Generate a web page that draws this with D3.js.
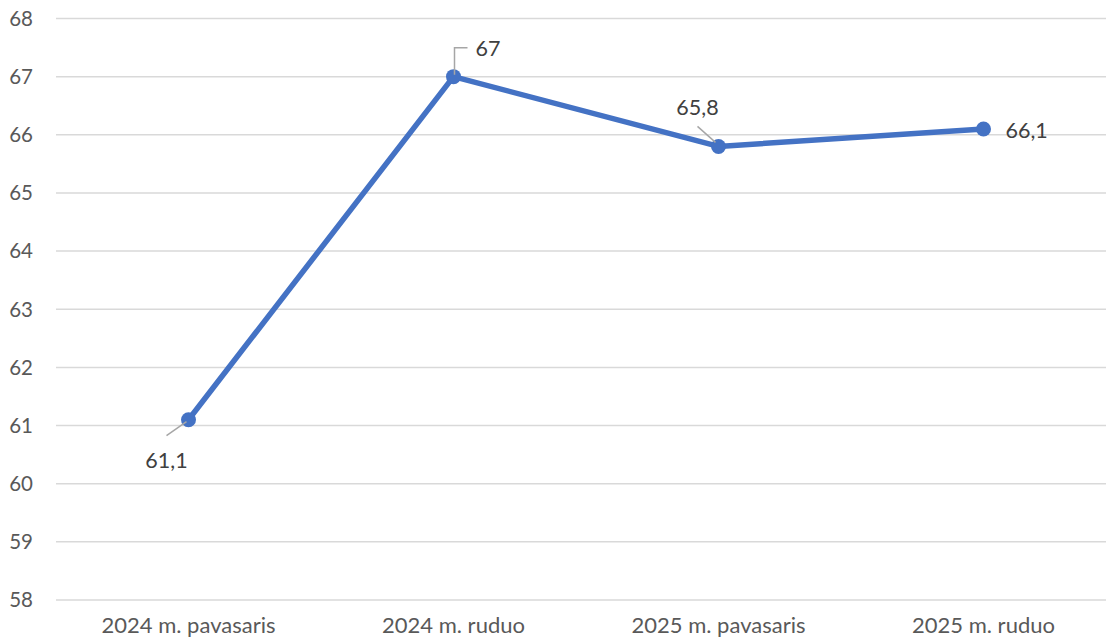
<!DOCTYPE html>
<html><head><meta charset="utf-8">
<script src="https://cdn.jsdelivr.net/npm/d3@7"></script>
<style>body{margin:0;background:#fff}svg{display:block}</style>
</head><body>
<script>
const categories = ["2024 m. pavasaris","2024 m. ruduo","2025 m. pavasaris","2025 m. ruduo"];
const values = [61.1, 67, 65.8, 66.1];
const valueLabels = ["61,1","67","65,8","66,1"];
const yTicks = [58,59,60,61,62,63,64,65,66,67,68];

const W=1106,H=643;
const svg=d3.select("body").append("svg").attr("width",W).attr("height",H);
const font="Lato, 'Open Sans', sans-serif";
const x=d3.scalePoint().domain(categories).range([188.5,983.5]);
const y=d3.scaleLinear().domain([58,68]).range([600,18.5]);

// gridlines
svg.append("g").selectAll("line").data(yTicks).join("line")
  .attr("x1",56).attr("x2",1106).attr("y1",d=>y(d)).attr("y2",d=>y(d))
  .attr("stroke","#d9d9d9").attr("stroke-width",1.5);

// y axis labels
svg.append("g").selectAll("text").data(yTicks).join("text")
  .attr("x",33).attr("y",d=>y(d)).attr("dy","0.36em").attr("text-anchor","end")
  .attr("font-family",font).attr("font-size",20.5).attr("fill","#595959").text(d=>d);

// x axis labels
svg.append("g").selectAll("text").data(categories).join("text")
  .attr("x",d=>x(d)).attr("y",633).attr("text-anchor","middle")
  .attr("font-family",font).attr("font-size",22).attr("fill","#595959").text(d=>d);

const pts=categories.map((c,i)=>({c,v:values[i],l:valueLabels[i]}));
svg.append("path").datum(pts)
  .attr("d",d3.line().x(d=>x(d.c)).y(d=>y(d.v)))
  .attr("fill","none").attr("stroke","#4472c4").attr("stroke-width",5.5).attr("stroke-linejoin","round");
svg.append("g").selectAll("circle").data(pts).join("circle")
  .attr("cx",d=>x(d.c)).attr("cy",d=>y(d.v)).attr("r",7.5).attr("fill","#4472c4");

// data label placement (style only)
const place=[
  {dx:-22,dy:41,anchor:"middle",leader:(px,py)=>`M${px-2},${py+2}L${px-22},${py+16}`},
  {dx:22,dy:-28,anchor:"start",leader:(px,py)=>`M${px+1},${py-2}V${py-29}H${px+14}`},
  {dx:-21,dy:-39,anchor:"middle",leader:(px,py)=>`M${px-3},${py-4}L${px-21},${py-20}`},
  {dx:22,dy:1,anchor:"start",leader:null}
];
const lg=svg.append("g");
pts.forEach((d,i)=>{
  const px=x(d.c),py=y(d.v),p=place[i];
  if(p.leader) lg.append("path").attr("d",p.leader(px,py)).attr("fill","none").attr("stroke","#a6a6a6").attr("stroke-width",1.5);
  lg.append("text").attr("x",px+p.dx).attr("y",py+p.dy).attr("dy","0.36em").attr("text-anchor",p.anchor)
    .attr("font-family",font).attr("font-size",21.5).attr("fill","#404040").text(d.l);
});
</script>
</body></html>
